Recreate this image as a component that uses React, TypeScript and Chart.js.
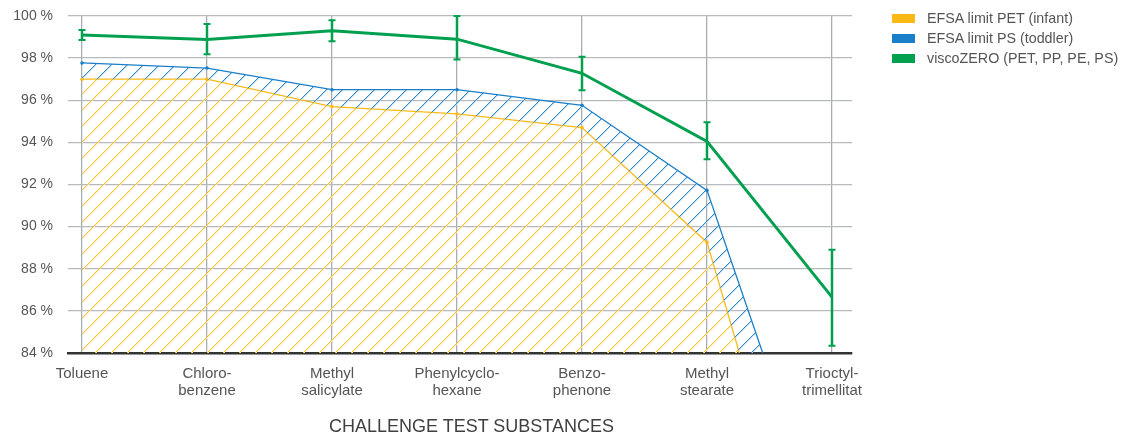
import React, { useEffect, useRef } from "react";
import { Chart, registerables } from "chart.js";

Chart.register(...registerables);

const categories: string[][] = [
  ["Toluene"],
  ["Chloro-", "benzene"],
  ["Methyl", "salicylate"],
  ["Phenylcyclo-", "hexane"],
  ["Benzo-", "phenone"],
  ["Methyl", "stearate"],
  ["Trioctyl-", "trimellitat"],
];

const petInfant = [97.0, 97.0, 95.7, 95.35, 94.7, 89.25, 69.0];
const psToddler = [97.77, 97.53, 96.5, 96.5, 95.76, 91.72, 74.4];
const viscoZero = [99.1, 98.89, 99.3, 98.9, 97.28, 94.05, 86.65];
const viscoLow = [98.86, 98.18, 98.8, 97.94, 96.48, 93.2, 84.35];
const viscoHigh = [99.33, 99.62, 99.8, 100.0, 98.07, 94.95, 88.9];

const yTicks = [84, 86, 88, 90, 92, 94, 96, 98, 100];

const legendLabels = ["EFSA limit PET (infant)", "EFSA limit PS (toddler)", "viscoZERO (PET, PP, PE, PS)"];
const axisTitle = "CHALLENGE TEST SUBSTANCES";

const YELLOW = "#fbb917";
const BLUE = "#1a7fc9";
const GREEN = "#00a04f";
const YELLOW_HATCH = ["#f9c336", "#fde7b0"];
const BLUE_HATCH = ["#2a8ad2", "#b9d8f0"];
const FONT = "'Liberation Sans', Arial, Helvetica, sans-serif";

const patternCache: Record<string, CanvasPattern | string> = {};

function hatch(mainCtx: CanvasRenderingContext2D, colors: string[], spacing: number): CanvasPattern | string {
  const key = colors.join() + spacing;
  if (patternCache[key]) return patternCache[key];
  const c = document.createElement("canvas");
  c.width = spacing;
  c.height = spacing;
  const tctx = c.getContext("2d");
  if (!tctx) return colors[0];
  tctx.clearRect(0, 0, spacing, spacing);
  for (let i = 0; i < spacing; i++) {
    tctx.fillStyle = colors[1];
    tctx.fillRect(i, (spacing - i) % spacing, 1, 1);
    tctx.fillStyle = colors[0];
    tctx.fillRect(i, spacing - 1 - i, 1, 1);
  }
  const p = mainCtx.createPattern(c, "repeat");
  patternCache[key] = p || colors[0];
  return patternCache[key];
}

const errorBarPlugin = {
  id: "errorBars",
  afterDatasetsDraw(chart: any) {
    const ctx = chart.ctx;
    const xs = chart.scales.x;
    const ys = chart.scales.y;
    ctx.save();
    ctx.strokeStyle = GREEN;
    for (let i = 0; i < viscoZero.length; i++) {
      const x = xs.getPixelForValue(i);
      const yl = ys.getPixelForValue(viscoLow[i]);
      const yh = ys.getPixelForValue(viscoHigh[i]);
      ctx.lineWidth = 2.5;
      ctx.beginPath();
      ctx.moveTo(x, yl);
      ctx.lineTo(x, yh);
      ctx.stroke();
      ctx.lineWidth = 2;
      ctx.beginPath();
      ctx.moveTo(x - 3.5, yl);
      ctx.lineTo(x + 3.5, yl);
      ctx.moveTo(x - 3.5, yh);
      ctx.lineTo(x + 3.5, yh);
      ctx.stroke();
    }
    ctx.restore();
  },
};

export default function App() {
  const ref = useRef<HTMLCanvasElement | null>(null);

  useEffect(() => {
    if (!ref.current) return;
    const toXY = (arr: number[]) => arr.map((v, i) => ({ x: i, y: v }));
    const chart = new Chart(ref.current, {
      type: "line",
      data: {
        datasets: [
          {
            label: legendLabels[2],
            data: toXY(viscoZero),
            borderColor: GREEN,
            borderWidth: 3,
            pointRadius: 0,
            fill: false,
          },
          {
            label: legendLabels[1],
            data: toXY(psToddler),
            borderColor: BLUE,
            borderWidth: 1.3,
            pointRadius: 1.8,
            pointBackgroundColor: BLUE,
            pointBorderColor: BLUE,
            pointBorderWidth: 0,
            backgroundColor: (c: any) => hatch(c.chart.ctx, BLUE_HATCH, 16),
            fill: "+1",
          },
          {
            label: legendLabels[0],
            data: toXY(petInfant),
            borderColor: YELLOW,
            borderWidth: 1.3,
            pointRadius: 1.8,
            pointBackgroundColor: YELLOW,
            pointBorderColor: YELLOW,
            pointBorderWidth: 0,
            backgroundColor: (c: any) => hatch(c.chart.ctx, YELLOW_HATCH, 16),
            fill: "start",
          },
        ],
      },
      options: {
        animation: false,
        responsive: false,
        maintainAspectRatio: false,
        layout: { padding: { top: 16, right: 275, left: 0, bottom: 0 } },
        plugins: {
          legend: { display: false },
          tooltip: { enabled: false },
        },
        elements: { line: { tension: 0 } },
        scales: {
          x: {
            type: "linear",
            min: -0.112,
            max: 6.16,
            afterBuildTicks: (scale: any) => {
              scale.ticks = categories.map((_, i) => ({ value: i }));
            },
            afterFit: (scale: any) => {
              scale.height = 82;
              scale.paddingLeft = 0;
              scale.paddingRight = 0;
            },
            grid: {
              color: "#a9adb1",
              lineWidth: 1.3,
              drawTicks: false,
            },
            border: { display: true, color: "#333333", width: 2.5 },
            ticks: {
              autoSkip: false,
              maxRotation: 0,
              padding: 12,
              color: "#555555",
              font: { family: FONT, size: 15, lineHeight: 1.13 },
              callback: (v: any) => {
                const c = categories[Math.round(Number(v))];
                return c ? (c.length === 1 ? c[0] : c) : "";
              },
            },
          },
          y: {
            type: "linear",
            min: 84,
            max: 100,
            afterBuildTicks: (scale: any) => {
              scale.ticks = yTicks.map((v) => ({ value: v }));
            },
            afterFit: (scale: any) => {
              scale.width = 68;
              scale.paddingTop = 0;
              scale.paddingBottom = 0;
            },
            grid: {
              color: "#b7babd",
              lineWidth: 1.3,
              drawTicks: false,
            },
            border: { display: false },
            ticks: {
              padding: 15,
              color: "#555555",
              font: { family: FONT, size: 14 },
              callback: (v: any) => `${v} %`,
            },
          },
        },
      },
      plugins: [errorBarPlugin],
    } as any);
    return () => chart.destroy();
  }, []);

  const legendColors = [YELLOW, BLUE, GREEN];

  return (
    <div
      style={{
        position: "absolute",
        left: 0,
        top: 0,
        width: 1127,
        height: 435,
        overflow: "hidden",
        background: "#ffffff",
        fontFamily: FONT,
      }}
    >
      <canvas ref={ref} width={1127} height={435} style={{ width: 1127, height: 435, display: "block" }} />
      {legendLabels.map((lab, i) => (
        <React.Fragment key={lab}>
          <div
            style={{
              position: "absolute",
              left: 892,
              top: 14 + i * 20,
              width: 23,
              height: 9,
              background: legendColors[i],
            }}
          />
          <div
            style={{
              position: "absolute",
              left: 927,
              top: 7.5 + i * 20,
              height: 20,
              lineHeight: "20px",
              fontSize: 14.3,
              color: "#555555",
              whiteSpace: "nowrap",
            }}
          >
            {lab}
          </div>
        </React.Fragment>
      ))}
      <div
        style={{
          position: "absolute",
          left: 0,
          width: 943,
          textAlign: "center",
          top: 417.5,
          lineHeight: "17px",
          fontSize: 18,
          color: "#3f3f3f",
          whiteSpace: "nowrap",
        }}
      >
        {axisTitle}
      </div>
    </div>
  );
}
